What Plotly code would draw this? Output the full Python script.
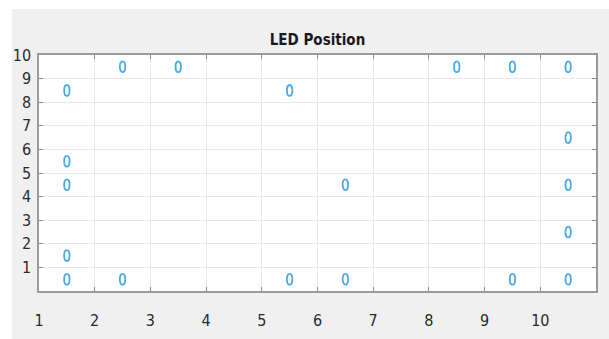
import plotly.graph_objects as go

# LED centre positions on the board grid
led_x = [2.5, 3.5, 8.5, 9.5, 10.5,
         1.5, 5.5,
         10.5,
         1.5,
         1.5, 6.5, 10.5,
         10.5,
         1.5,
         1.5, 2.5, 5.5, 6.5, 9.5, 10.5]
led_y = [9.5, 9.5, 9.5, 9.5, 9.5,
         8.5, 8.5,
         6.5,
         5.5,
         4.5, 4.5, 4.5,
         2.5,
         1.5,
         0.5, 0.5, 0.5, 0.5, 0.5, 0.5]

x_ticks = [1, 2, 3, 4, 5, 6, 7, 8, 9, 10]
y_ticks = [1, 2, 3, 4, 5, 6, 7, 8, 9, 10]

W, H = 609, 339
ML, MR, MT, MB = 39, 13, 55, 48
X_RANGE = [1, 11]
Y_RANGE = [0, 10]

marker_color = "rgb(72,170,228)"
font_family = "DejaVu Sans Condensed, Liberation Sans, Arial, sans-serif"

fig = go.Figure()

# invisible carrier trace for hover / data
fig.add_trace(go.Scatter(
    x=led_x, y=led_y, mode="markers",
    marker=dict(size=10, color="rgba(0,0,0,0)"),
    showlegend=False, hoverinfo="x+y",
))

# oval 'o' markers drawn in data units
plot_w = W - ML - MR
plot_h = H - MT - MB
rx = 2.7 * (X_RANGE[1] - X_RANGE[0]) / plot_w
ry = 5.4 * (Y_RANGE[1] - Y_RANGE[0]) / plot_h
shapes = []
for xv, yv in zip(led_x, led_y):
    shapes.append(dict(
        type="circle", xref="x", yref="y",
        x0=xv - rx, x1=xv + rx, y0=yv - ry, y1=yv + ry,
        line=dict(color=marker_color, width=1.8),
        fillcolor="rgba(0,0,0,0)", layer="above",
    ))

# thin white border at the top and left of the figure window
shapes.append(dict(type="rect", xref="paper", yref="paper",
                   x0=-ML / plot_w - 0.01, x1=1 + MR / plot_w + 0.01,
                   y0=1 + (MT - 9) / plot_h, y1=1 + MT / plot_h + 0.01,
                   fillcolor="white", line=dict(width=0), layer="below"))
shapes.append(dict(type="rect", xref="paper", yref="paper",
                   x0=-ML / plot_w - 0.01, x1=-(ML - 12) / plot_w,
                   y0=-MB / plot_h - 0.01, y1=1 + MT / plot_h + 0.01,
                   fillcolor="white", line=dict(width=0), layer="below"))

axis_common = dict(
    showgrid=True, gridcolor="#e8e8e8", gridwidth=1,
    showline=True, linecolor="#9a9a9a", linewidth=1.5, mirror="ticks",
    ticks="inside", ticklen=4, tickcolor="#8a8a8a", tickwidth=1,
    zeroline=False, automargin=False,
    tickfont=dict(family=font_family, size=16, color="#2a2a2a"),
)

fig.update_layout(
    width=W, height=H,
    margin=dict(l=ML, r=MR, t=MT, b=MB),
    paper_bgcolor="#f0f0f0",
    plot_bgcolor="white",
    title=dict(text="<b>LED Position</b>", x=(ML + plot_w / 2) / W, xanchor="center",
               y=1 - 40 / H, yanchor="middle",
               font=dict(family=font_family, size=15, color="#1a1a1a")),
    xaxis=dict(range=X_RANGE, tickmode="array", tickvals=x_ticks,
               ticklabelstandoff=14, **axis_common),
    yaxis=dict(range=Y_RANGE, tickmode="array", tickvals=y_ticks,
               ticklabelstandoff=3, **axis_common),
    shapes=shapes,
    showlegend=False,
)

fig.write_html(
    "out.html",
    post_script="document.body.style.margin='0';document.body.style.overflow='hidden';",
)
